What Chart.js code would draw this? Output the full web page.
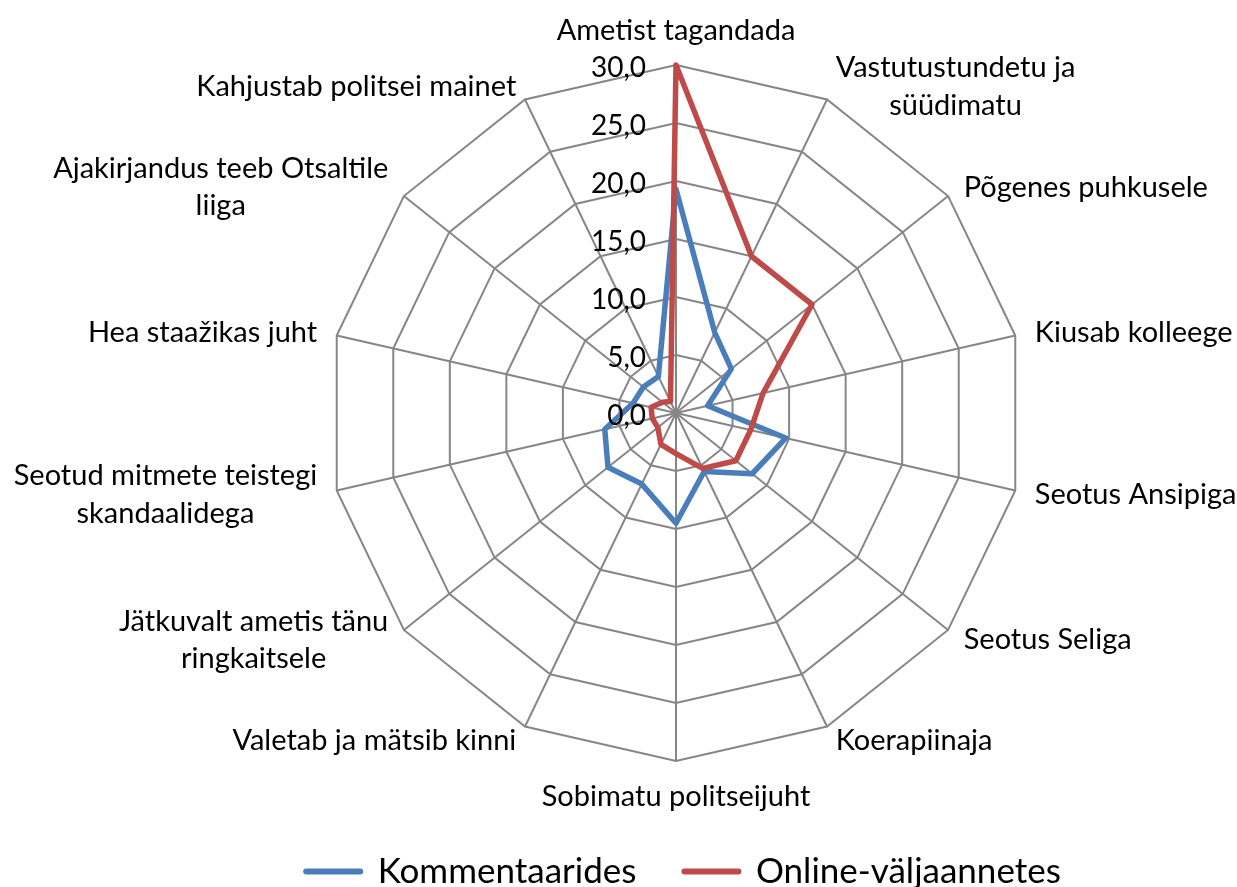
<!DOCTYPE html>
<html>
<head>
<meta charset="utf-8">
<script src="https://cdn.jsdelivr.net/npm/chart.js@4.4.0/dist/chart.umd.min.js"></script>
<style>
  html, body { margin: 0; padding: 0; background: #fff; }
  canvas { display: block; }
</style>
</head>
<body>
<canvas id="radar" width="1237" height="887"></canvas>
<script>
// categories clockwise from the top
const categories = [
  'Ametist tagandada',
  ['Vastutustundetu ja', 'süüdimatu'],
  'Põgenes puhkusele',
  'Kiusab kolleege',
  'Seotus Ansipiga',
  'Seotus Seliga',
  'Koerapiinaja',
  'Sobimatu politseijuht',
  'Valetab ja mätsib kinni',
  ['Jätkuvalt ametis tänu', 'ringkaitsele'],
  ['Seotud mitmete teistegi', 'skandaalidega'],
  'Hea staažikas juht',
  ['Ajakirjandus teeb Otsaltile', 'liiga'],
  'Kahjustab politsei mainet'
];
const kommentaarides = [19.3, 7.7, 6.1, 2.8, 9.7, 8.4, 5.6, 9.5, 6.8, 7.5, 6.3, 3.8, 3.6, 3.5];
const online = [30.0, 15.0, 15.0, 7.7, 6.6, 6.6, 5.3, 3.5, 3.0, 2.0, 2.1, 2.2, 1.5, 1.1];
const seriesNames = ['Kommentaarides', 'Online-väljaannetes'];
const axisMax = 30;
const axisStep = 5;

const FONT = 'Lato, "Open Sans", sans-serif';

// excel style labels: tick values left of the top spoke, category texts around the rim
const excelLabels = {
  id: 'excelLabels',
  afterDatasetsDraw(chart) {
    const r = chart.scales.r;
    const ctx = chart.ctx;
    ctx.save();
    ctx.fillStyle = '#000';
    ctx.textBaseline = 'alphabetic';

    ctx.font = '28px ' + FONT;
    ctx.textAlign = 'right';
    r.ticks.forEach(t => {
      const y = r.yCenter - r.getDistanceFromCenterForValue(t.value);
      ctx.fillText(t.value.toFixed(1).replace('.', ','), r.xCenter - 30, y + 12);
    });

    ctx.font = '29px ' + FONT;
    ctx.textAlign = 'center';
    const lineH = 37.5;
    chart.data.labels.forEach((label, i) => {
      const lines = Array.isArray(label) ? label : [label];
      const angle = r.getIndexAngle(i);
      const s = Math.sin(angle), c = Math.cos(angle);
      const v = r.getPointPosition(i, r.drawingArea);
      const blockW = Math.max(...lines.map(l => ctx.measureText(l).width));
      const blockH = lines.length * lineH;
      let cx, midY;
      if (Math.abs(s) < 0.01) {
        cx = v.x;
        midY = v.y - c * (16 + blockH / 2);
      } else {
        const ax = v.x + 20 * s;
        cx = s > 0 ? ax + blockW / 2 : ax - blockW / 2;
        midY = v.y - c * 15;
      }
      lines.forEach((l, k) => {
        ctx.fillText(l, cx, midY + (k - (lines.length - 1) / 2) * lineH + 10);
      });
    });
    ctx.restore();
  }
};

new Chart(document.getElementById('radar'), {
  type: 'radar',
  data: {
    labels: categories,
    datasets: [{
      label: seriesNames[0],
      data: kommentaarides,
      borderColor: '#4A7EBB',
      backgroundColor: '#4A7EBB',
      order: 1
    }, {
      label: seriesNames[1],
      data: online,
      borderColor: '#BE4B48',
      backgroundColor: '#BE4B48',
      order: 0
    }]
  },
  options: {
    responsive: false,
    animation: false,
    events: [],
    layout: { padding: { left: 130, right: 0, top: 0, bottom: -12 } },
    elements: {
      line: { borderWidth: 5.5, tension: 0, fill: false, borderJoinStyle: 'round', borderCapStyle: 'round' },
      point: { radius: 0, pointStyle: 'line' }
    },
    datasets: { radar: { clip: false } },
    scales: {
      r: {
        min: 0,
        max: axisMax,
        ticks: { stepSize: axisStep, display: false },
        pointLabels: { display: false },
        grid: { color: '#868686', lineWidth: 2 },
        angleLines: { color: '#868686', lineWidth: 2 },
        afterFit(scale) {
          scale.xCenter = 676;
          scale.yCenter = 413;
          scale.drawingArea = 348;
        }
      }
    },
    plugins: {
      tooltip: { enabled: false },
      legend: {
        position: 'bottom',
        labels: {
          usePointStyle: true,
          pointStyleWidth: 54,
          padding: 48,
          color: '#000',
          font: { family: FONT, size: 35 },
          sort: (a, b) => a.datasetIndex - b.datasetIndex,
          generateLabels(chart) {
            return Chart.defaults.plugins.legend.labels.generateLabels(chart)
              .map(item => Object.assign(item, { lineWidth: 6, lineCap: 'round' }));
          }
        }
      }
    }
  },
  plugins: [excelLabels]
});
</script>
</body>
</html>
